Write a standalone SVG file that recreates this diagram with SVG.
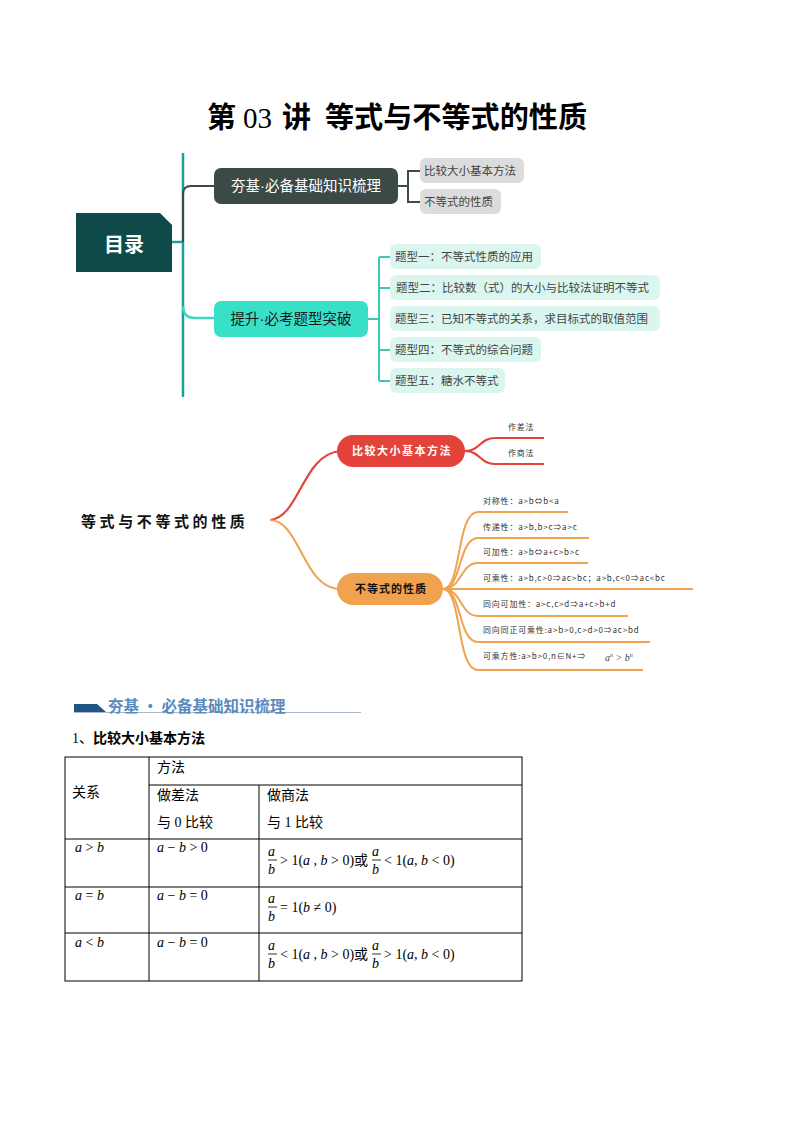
<svg xmlns="http://www.w3.org/2000/svg" width="794" height="1123" viewBox="0 0 794 1123">
<style>
.cjk{font-family:"Noto Sans CJK SC","Noto Sans",sans-serif}
.title{font-family:"Liberation Serif","Noto Sans CJK SC",serif;font-size:29px;font-weight:bold;fill:#000}
.n1t{font-family:"Noto Sans CJK SC",sans-serif;font-size:14.5px;fill:#fff}
.n2t{font-family:"Noto Sans CJK SC",sans-serif;font-size:14.5px;fill:#1a1a1a}
.dot{font-family:"Liberation Sans",sans-serif}
.ct{font-family:"Noto Sans CJK SC",sans-serif;font-size:11.5px;fill:#444}
.gray{fill:#dcdcdc}
.mint{fill:#daf6ef}
.dk{stroke:#3d4a47;stroke-width:2;fill:none}
.tl{stroke:#3cc8b4;stroke-width:2;fill:none}
.red{stroke:#e4433b;stroke-width:2.2;fill:none}
.org{stroke:#f0a24e;stroke-width:2;fill:none}
.mt{font-family:"Noto Sans CJK SC",sans-serif;font-size:8px;letter-spacing:0.8px;fill:#333}
.tb{stroke:#000;stroke-width:1;fill:none}
.tt{font-family:"Liberation Serif","Noto Sans CJK SC",serif;font-size:14px;fill:#000}
.m{font-family:"Liberation Serif",serif;font-size:14px;font-style:italic;fill:#000}
.mn{font-family:"Liberation Serif","Noto Sans CJK SC",serif;font-size:14px;fill:#000}
</style>

<g id="title">
<text class="title" x="207" y="128">第</text>
<text class="title" x="243" y="128" style="font-weight:normal">03</text>
<text class="title" x="282" y="128">讲</text>
<text class="title" x="325" y="128" textLength="262" lengthAdjust="spacingAndGlyphs">等式与不等式的性质</text>
</g>

<g id="connectors-top">
<line x1="183" y1="153" x2="183" y2="397" stroke="#1e9e9a" stroke-width="2.5"/>
<line x1="172" y1="242" x2="183" y2="242" stroke="#1e9e9a" stroke-width="2.5"/>
<path class="dk" d="M183,242 L183,194 Q183,186 191,186 L215,186" stroke-width="2.5"/>
<path d="M183,306 Q183,318 195,318 L215,318" fill="none" stroke="#3cd6c0" stroke-width="2.5"/>
<path class="dk" d="M398,186 L408,186 M420,171 L408,171 L408,202 L420,202"/>
<path class="tl" d="M368,319 L379,319 M379,257 L379,381 M379,257 L390,257 M379,288 L390,288 M379,350 L390,350 M379,381 L390,381"/>
</g>

<g id="mulu">
<path d="M76,213 L160,213 L172,225 L172,272 L76,272 Z" fill="#0f4a4a"/>
<text x="124" y="252" text-anchor="middle" font-family="Noto Sans CJK SC,sans-serif" font-size="20" font-weight="bold" fill="#fff">目录</text>
</g>

<g id="node-hangji">
<rect x="214" y="168" width="184" height="36" rx="7" fill="#3b4a45"/>
<text class="n1t" x="306" y="191" text-anchor="middle">夯基<tspan class="dot">·</tspan>必备基础知识梳理</text>
</g>
<g id="node-bijiao">
<rect class="gray" x="420" y="158" width="104" height="25" rx="6"/>
<text class="ct" x="424" y="175">比较大小基本方法</text>
</g>
<g id="node-xingzhi">
<rect class="gray" x="420" y="189" width="81" height="25" rx="6"/>
<text class="ct" x="424" y="206">不等式的性质</text>
</g>

<g id="node-tisheng">
<rect x="214" y="301" width="154" height="36" rx="7" fill="#38e0c8"/>
<text class="n2t" x="291" y="324" text-anchor="middle">提升<tspan class="dot">·</tspan>必考题型突破</text>
</g>
<g id="node-t1">
<rect class="mint" x="390" y="244" width="151" height="25" rx="6"/>
<text class="ct" x="395" y="261">题型一：不等式性质的应用</text>
</g>
<g id="node-t2">
<rect class="mint" x="390" y="275" width="270" height="25" rx="6"/>
<text class="ct" x="396" y="292">题型二：比较数（式）的大小与比较法证明不等式</text>
</g>
<g id="node-t3">
<rect class="mint" x="390" y="306" width="270" height="25" rx="6"/>
<text class="ct" x="395" y="323">题型三：已知不等式的关系，求目标式的取值范围</text>
</g>
<g id="node-t4">
<rect class="mint" x="390" y="337" width="151" height="25" rx="6"/>
<text class="ct" x="395" y="354">题型四：不等式的综合问题</text>
</g>
<g id="node-t5">
<rect class="mint" x="390" y="368" width="115" height="25" rx="6"/>
<text class="ct" x="395" y="385">题型五：糖水不等式</text>
</g>

<g id="connectors-map2">
<path class="red" d="M270,520 C300,517 302,455 340,451" stroke-width="2.5"/>
<path class="org" d="M270,520 C300,520 303,589 340,589" stroke-width="2.5"/>
<path class="red" d="M465,451 C480,451 480,438 495,438 L544,438"/>
<path class="red" d="M465,451 C480,451 480,464 495,464 L544,464"/>
<path class="org" d="M443,589 C462,589 456,512 478,512 L568,512"/>
<path class="org" d="M443,589 C462,589 458,538 478,538 L589,538"/>
<path class="org" d="M443,589 C462,589 460,563 478,563 L588,563"/>
<path class="org" d="M443,589 L693,589"/>
<path class="org" d="M443,589 C462,589 460,616 478,616 L628,616"/>
<path class="org" d="M443,589 C462,589 458,642 478,642 L650,642"/>
<path class="org" d="M443,589 C462,589 456,670 478,670 L643,670"/>
</g>

<g id="root2">
<text x="81" y="527" font-family="Noto Sans CJK SC,sans-serif" font-size="15" font-weight="bold" letter-spacing="3.6" fill="#111">等式与不等式的性质</text>
</g>
<g id="node-red">
<rect x="337" y="435" width="128" height="32" rx="16" fill="#e4433b"/>
<text x="402" y="455" text-anchor="middle" font-family="Noto Sans CJK SC,sans-serif" font-size="11" font-weight="bold" letter-spacing="1.5" fill="#fff">比较大小基本方法</text>
</g>
<g id="leaf-zuocha"><text class="mt" x="508" y="430">作差法</text></g>
<g id="leaf-zuoshang"><text class="mt" x="508" y="456">作商法</text></g>

<g id="node-orange">
<rect x="337" y="573" width="106" height="32" rx="16" fill="#f0a24e"/>
<text x="391" y="593" text-anchor="middle" font-family="Noto Sans CJK SC,sans-serif" font-size="11" font-weight="bold" letter-spacing="1" fill="#111">不等式的性质</text>
</g>
<g id="leaf-o1"><text class="mt" x="483" y="504">对称性：a&gt;b⇔b&lt;a</text></g>
<g id="leaf-o2"><text class="mt" x="483" y="530">传递性：a&gt;b,b&gt;c⇒a&gt;c</text></g>
<g id="leaf-o3"><text class="mt" x="483" y="555">可加性：a&gt;b⇔a+c&gt;b&gt;c</text></g>
<g id="leaf-o4"><text class="mt" x="483" y="581">可乘性：a&gt;b,c&gt;0⇒ac&gt;bc；a&gt;b,c&lt;0⇒ac&lt;bc</text></g>
<g id="leaf-o5"><text class="mt" x="483" y="607">同向可加性：a&gt;c,c&gt;d⇒a+c&gt;b+d</text></g>
<g id="leaf-o6"><text class="mt" x="483" y="633">同向同正可乘性:a&gt;b&gt;0,c&gt;d&gt;0⇒ac&gt;bd</text></g>
<g id="leaf-o7">
<text class="mt" x="483" y="659">可乘方性:a&gt;b&gt;0,n∈N+⇒</text>
<text x="605" y="661" font-family="Liberation Serif,serif" font-style="italic" font-size="10" fill="#444">a<tspan font-size="6" dy="-4">n</tspan><tspan dy="4"> &gt; b</tspan><tspan font-size="6" dy="-4">n</tspan></text>
</g>

<g id="section-header">
<polygon points="74,704 97,704 106,712 74,712" fill="#1f5586"/>
<line x1="74" y1="712.5" x2="361" y2="712.5" stroke="#a9b8cc" stroke-width="1"/>
<text x="108" y="712" font-family="Noto Sans CJK SC,sans-serif" font-size="15.5" font-weight="bold" fill="#5b8bbd">夯基 · 必备基础知识梳理</text>
</g>
<g id="heading1">
<text x="72" y="743" font-family="Liberation Serif,Noto Sans CJK SC,serif" font-size="14" fill="#000">1、<tspan font-family="Noto Sans CJK SC,sans-serif" font-weight="bold">比较大小基本方法</tspan></text>
</g>

<g id="table">
<rect class="tb" x="65" y="757" width="457" height="224"/>
<line class="tb" x1="149" y1="757" x2="149" y2="981"/>
<line class="tb" x1="259" y1="785" x2="259" y2="981"/>
<line class="tb" x1="149" y1="785" x2="522" y2="785"/>
<line class="tb" x1="65" y1="839" x2="522" y2="839"/>
<line class="tb" x1="65" y1="887" x2="522" y2="887"/>
<line class="tb" x1="65" y1="933" x2="522" y2="933"/>

<text class="tt" x="157" y="772">方法</text>
<text class="tt" x="72" y="797">关系</text>
<text class="tt" x="157" y="800">做差法</text>
<text class="tt" x="157" y="827">与 0 比较</text>
<text class="tt" x="267" y="800">做商法</text>
<text class="tt" x="267" y="827">与 1 比较</text>

<text class="m" x="75" y="852">a<tspan font-style="normal"> &gt; </tspan>b</text>
<text class="m" x="157" y="852">a<tspan font-style="normal"> − </tspan>b<tspan font-style="normal"> &gt; 0</tspan></text>
<text class="m" x="268" y="856">a</text>
<line x1="268" y1="860" x2="277" y2="860" stroke="#000" stroke-width="0.8"/>
<text class="m" x="268" y="874">b</text>
<text class="mn" x="280" y="865">&gt; 1(<tspan font-style="italic">a</tspan> , <tspan font-style="italic">b</tspan> &gt; 0)或</text>
<text class="m" x="372" y="856">a</text>
<line x1="372" y1="860" x2="381" y2="860" stroke="#000" stroke-width="0.8"/>
<text class="m" x="372" y="874">b</text>
<text class="mn" x="384" y="865">&lt; 1(<tspan font-style="italic">a</tspan>, <tspan font-style="italic">b</tspan> &lt; 0)</text>

<text class="m" x="75" y="900">a<tspan font-style="normal"> = </tspan>b</text>
<text class="m" x="157" y="900">a<tspan font-style="normal"> − </tspan>b<tspan font-style="normal"> = 0</tspan></text>
<text class="m" x="268" y="903">a</text>
<line x1="268" y1="907" x2="277" y2="907" stroke="#000" stroke-width="0.8"/>
<text class="m" x="268" y="921">b</text>
<text class="mn" x="280" y="912">= 1(<tspan font-style="italic">b</tspan> ≠ 0)</text>

<text class="m" x="75" y="947">a<tspan font-style="normal"> &lt; </tspan>b</text>
<text class="m" x="157" y="947">a<tspan font-style="normal"> − </tspan>b<tspan font-style="normal"> = 0</tspan></text>
<text class="m" x="268" y="950">a</text>
<line x1="268" y1="954" x2="277" y2="954" stroke="#000" stroke-width="0.8"/>
<text class="m" x="268" y="968">b</text>
<text class="mn" x="280" y="959">&lt; 1(<tspan font-style="italic">a</tspan> , <tspan font-style="italic">b</tspan> &gt; 0)或</text>
<text class="m" x="372" y="950">a</text>
<line x1="372" y1="954" x2="381" y2="954" stroke="#000" stroke-width="0.8"/>
<text class="m" x="372" y="968">b</text>
<text class="mn" x="384" y="959">&gt; 1(<tspan font-style="italic">a</tspan>, <tspan font-style="italic">b</tspan> &lt; 0)</text>
</g>
</svg>
